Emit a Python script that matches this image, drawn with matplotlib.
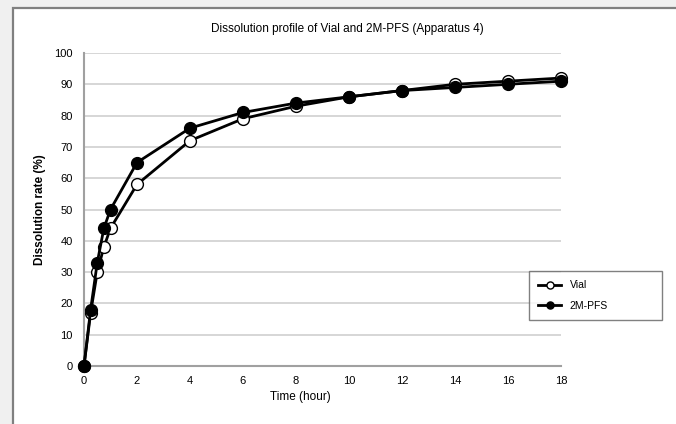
import numpy as np
import matplotlib.pyplot as plt
from matplotlib.patches import Rectangle

plt.rcParams['font.family'] = ['Liberation Sans', 'DejaVu Sans']

time_h = [0, 0.25, 0.5, 0.75, 1, 2, 4, 6, 8, 10, 12, 14, 16, 18]
vial = [0, 17, 30, 38, 44, 58, 72, 79, 83, 86, 88, 90, 91, 92]
pfs = [0, 18, 33, 44, 50, 65, 76, 81, 84, 86, 88, 89, 90, 91]

W, H = 676, 424
fig = plt.figure(figsize=(W / 100, H / 100), dpi=100, facecolor='#f0f0f0')

# white chart panel with grey frame
fig.patches.append(Rectangle((13 / W, -0.05), 1.1, 1 - 8 / H + 0.05,
                             transform=fig.transFigure, facecolor='white',
                             edgecolor='#808080', lw=1.6, zorder=-5))

ax = fig.add_axes([84 / W, 1 - 366 / H, (561 - 84) / W, (366 - 53) / H])
ax.set_zorder(2)
ax.set_facecolor('white')

ax.plot(time_h, vial, color='black', lw=2, marker='o', ms=8.5,
        mfc='white', mec='black', mew=1.0, label='Vial', zorder=3)
ax.plot(time_h, pfs, color='black', lw=2, marker='o', ms=8.5,
        mfc='black', mec='black', label='2M-PFS', zorder=4)

ax.set_xlim(0, 18)
ax.set_ylim(0, 100)
ax.set_xticks(np.arange(0, 19, 2))
ax.set_yticks(np.arange(0, 101, 10))
ax.tick_params(length=0, labelsize=8)
ax.tick_params(axis='y', pad=8)
ax.tick_params(axis='x', pad=7)
ax.grid(axis='y', color='#d0d0d0', lw=1.2)
ax.set_axisbelow(True)
for s in ['top', 'right']:
    ax.spines[s].set_visible(False)
for s in ['left', 'bottom']:
    ax.spines[s].set_color('#a0a0a0')
    ax.spines[s].set_linewidth(1.5)
for l in ax.get_lines():
    l.set_clip_on(False)

fig.text(347 / W, 1 - 29 / H, 'Dissolution profile of Vial and 2M-PFS (Apparatus 4)',
         ha='center', va='center', fontsize=8.5)
fig.text(300 / W, 1 - 397 / H, 'Time (hour)', ha='center', va='center', fontsize=8.5)
fig.text(40 / W, 1 - 210 / H, 'Dissolution rate (%)', ha='center', va='center',
         rotation=90, fontsize=8.5, fontweight='bold')

leg = ax.legend(loc='upper left', bbox_to_anchor=(529 / W, 1 - 217 / H, 133 / W, -54 / H),
                bbox_transform=fig.transFigure, mode='expand', fontsize=7.5,
                frameon=True, fancybox=False, markerscale=0.6, handlelength=2.2,
                borderpad=0.9, labelspacing=1.0, borderaxespad=0)
leg.get_frame().set_edgecolor('#606060')
leg.get_frame().set_linewidth(1.0)

fig.savefig('out.png', dpi=100, facecolor=fig.get_facecolor())
